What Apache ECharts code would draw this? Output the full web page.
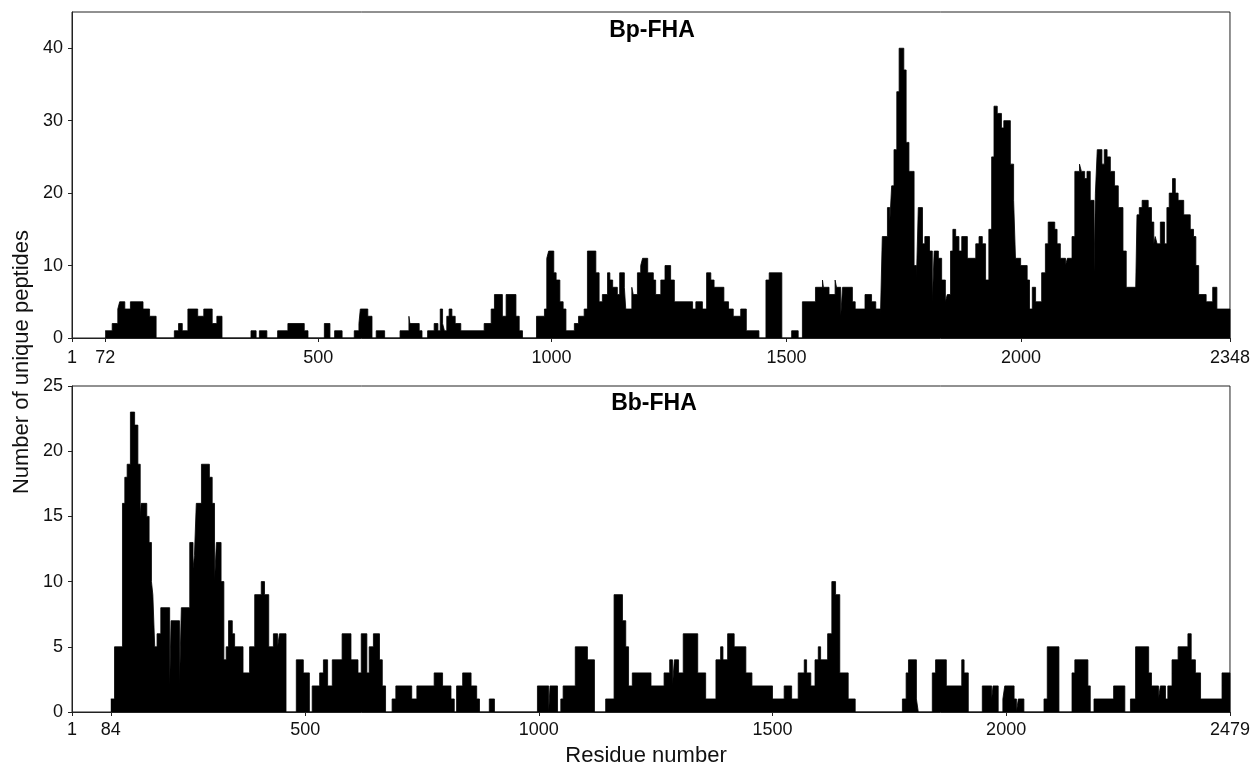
<!DOCTYPE html>
<html>
<head>
<meta charset="utf-8">
<script src="https://cdn.jsdelivr.net/npm/echarts@6/dist/echarts.min.js"></script>
<style>
html, body { margin: 0; padding: 0; background: #fff; }
#chart { width: 1253px; height: 766px; }
</style>
</head>
<body>
<div id="chart"></div>
<script>
// x positions are on the shared (aligned) residue axis, 1..2479
var axisEnd = 2479;

// Bp-FHA: step starts and peptide counts
var bpStart = [72,87,99,103,114,126,153,167,181,
  220,229,237,249,270,283,301,311,322,
  384,395,402,418,441,463,498,506,
  541,553,563,579,605,615,618,634,643,652,670,
  703,722,724,744,750,762,776,784,789,794,798,803,808,814,821,833,883,898,905,922,930,951,958,965,
  995,1012,1017,1021,1032,1037,1045,1052,1058,1076,1085,1097,1104,1122,1129,1136,1147,1152,1158,1168,1173,1183,1186,
  1199,1202,1211,1218,1222,1233,1245,1250,1261,1270,1282,1290,1329,1336,1350,1359,1368,1375,1396,1406,1416,1432,1444,1471,
  1486,1493,1520,1541,1555,1564,1592,1607,1609,1621,1634,1637,1646,1650,1671,1677,1698,1712,1721,1731,
  1735,1746,1751,1755,1760,1766,1771,1781,1786,1792,1803,1808,1812,1821,1826,1836,1842,1846,1855,1862,1870,1874,
  1881,1886,1892,1899,1905,1917,1935,1942,1949,1956,1963,1969,1974,1981,1990,1995,2009,2016,2020,2031,2045,2050,
  2056,2063,2076,2084,2090,2104,2109,2116,2127,2131,2141,2147,2157,2161,2168,2173,2180,2188,2191,2195,2205,2210,
  2216,2223,2232,2240,2250,2257,2277,2280,2285,2291,2304,2311,2316,2319,2323,2330,2339,2344,2349,2356,2362,2368,
  2380,2394,2401,2406,2412,2428,2442,2451];
var bpCount = [1,2,4,5,4,5,4,3,0,
  1,2,1,4,3,4,2,3,0,
  1,0,1,0,1,2,1,0,
  2,0,1,0,1,2,4,3,0,1,0,
  1,3,2,1,0,1,2,1,4,2,1,3,4,3,2,1,2,4,6,3,6,3,1,0,
  3,4,11,12,9,8,5,4,1,2,3,4,12,9,5,6,9,8,7,6,9,7,4,
  7,6,9,10,11,9,8,6,8,10,8,5,4,5,4,9,8,7,5,4,3,4,1,0,
  8,9,0,1,0,5,7,8,7,6,8,7,3,7,5,4,6,5,4,3,
  14,18,16,21,26,34,40,37,27,23,10,8,18,13,14,12,5,12,11,8,5,6,
  12,15,14,12,14,11,13,14,13,8,15,25,32,31,29,30,24,19,11,10,8,4,
  7,5,9,13,16,15,13,11,10,11,14,23,24,23,22,23,19,9,20,26,24,26,
  25,23,21,18,12,7,6,17,18,19,18,16,13,14,13,16,13,18,20,22,20,19,
  17,15,14,10,6,5,7,4];

// Bb-FHA: step starts and peptide counts
var bbStart = [84,92,109,114,119,126,135,142,147,149,161,166,171,174,178,183,191,210,213,231,235,253,260,263,267,
  278,295,301,306,310,320,326,331,336,344,349,367,381,392,406,413,422,432,441,445,459,
  481,496,509,515,531,539,548,558,579,598,613,620,632,637,646,659,665,672,686,694,728,739,
  776,794,812,819,824,837,855,867,873,894,905,
  997,1021,1024,1040,1047,1052,1078,1104,1119,1143,1161,1179,1186,1192,1200,1240,1268,1280,1286,1290,1299,1309,
  1340,1357,1379,1389,1394,1404,1418,1443,1456,1500,1525,1541,1555,1568,1573,1582,1591,1598,1603,1618,1627,1635,
  1644,1662,1677,1778,1786,1791,1808,1812,1842,1849,1872,1905,1910,1919,1949,1969,1972,1983,1993,1997,2017,2022,
  2026,2038,2081,2088,2113,2141,2147,2175,2180,2188,2230,2254,2266,2277,2305,2311,2326,2330,2341,2346,2355,2368,
  2389,2396,2405,2416,2462];
var bbCount = [1,5,16,18,19,23,22,19,15,16,15,13,10,9,5,6,8,2,7,2,8,13,11,12,16,
  19,18,16,10,13,10,4,5,7,6,5,3,5,9,10,9,5,6,5,6,0,
  4,3,0,2,3,4,2,4,6,4,3,6,3,5,6,4,2,0,1,2,1,2,
  3,2,1,0,2,3,2,1,0,1,0,
  2,0,2,0,1,2,5,4,0,1,9,7,5,2,3,2,3,4,2,4,3,6,
  3,1,4,5,4,6,5,3,2,1,2,1,3,4,3,2,4,5,4,6,10,9,
  3,1,0,1,3,4,1,0,3,4,2,4,3,0,2,1,2,0,1,2,1,0,
  1,0,1,5,0,3,4,2,0,1,2,0,1,5,3,2,1,2,1,2,4,5,
  6,4,3,1,3];

// tick positions on the aligned axis and their residue labels
var bpTickPos = [1, 72, 528, 1027, 1530, 2032, 2479];
var bpTickText = ['1', '72', '500', '1000', '1500', '2000', '2348'];
var bbTickPos = [1, 84, 500, 1000, 1500, 2000, 2479];
var bbTickText = ['1', '84', '500', '1000', '1500', '2000', '2479'];

var bpYTicks = [0, 10, 20, 30, 40];
var bbYTicks = [0, 5, 10, 15, 20, 25];

var FONT = '"Liberation Sans", Arial, sans-serif';
var AXIS_COLOR = '#222';

function steps(start, count, end) {
  var d = [];
  for (var i = 0; i < start.length; i++) d.push([start[i], count[i]]);
  d.push([end, count[count.length - 1]]);
  d.push([end, 0]);
  return d;
}

function labelOf(pos, text) {
  return function (v) {
    var best = 0;
    for (var i = 1; i < pos.length; i++) {
      if (Math.abs(pos[i] - v) < Math.abs(pos[best] - v)) best = i;
    }
    return text[best];
  };
}

function xAxis(grid, pos, text, margin) {
  return {
    gridIndex: grid, type: 'value', min: 1, max: axisEnd,
    axisLine: { show: true, onZero: false, lineStyle: { color: AXIS_COLOR, width: 1 } },
    axisTick: { show: true, customValues: pos, length: 4, lineStyle: { color: AXIS_COLOR } },
    axisLabel: { customValues: pos, formatter: labelOf(pos, text), fontSize: 18,
      fontFamily: FONT, color: '#111', margin: margin },
    splitLine: { show: false }
  };
}

function yAxis(grid, max, ticks) {
  return {
    gridIndex: grid, type: 'value', min: 0, max: max,
    axisLine: { show: true, lineStyle: { color: AXIS_COLOR, width: 1 } },
    axisTick: { show: true, customValues: ticks, length: 4, lineStyle: { color: AXIS_COLOR } },
    axisLabel: { customValues: ticks, fontSize: 18, fontFamily: FONT, color: '#111', margin: 9 },
    splitLine: { show: false }
  };
}

function bars(idx, data) {
  return {
    type: 'line', xAxisIndex: idx, yAxisIndex: idx, step: 'end',
    symbol: 'none', silent: true, data: data,
    lineStyle: { color: '#000', width: 0.8 },
    areaStyle: { color: '#000', opacity: 1 }
  };
}

var chart = echarts.init(document.getElementById('chart'));
chart.setOption({
  animation: false,
  backgroundColor: '#fff',
  grid: [
    { left: 72, right: 21, top: 12, height: 326, show: true, borderColor: AXIS_COLOR, borderWidth: 1 },
    { left: 72, right: 21, top: 386, height: 326, show: true, borderColor: AXIS_COLOR, borderWidth: 1 }
  ],
  xAxis: [xAxis(0, bpTickPos, bpTickText, 11), xAxis(1, bbTickPos, bbTickText, 9)],
  yAxis: [yAxis(0, 45, bpYTicks), yAxis(1, 25, bbYTicks)],
  series: [
    bars(0, steps(bpStart, bpCount, axisEnd)),
    bars(1, steps(bbStart, bbCount, axisEnd))
  ],
  graphic: [
    { type: 'text', x: 652, y: 31, style: { text: 'Bp-FHA', font: 'bold 23px ' + FONT,
      fill: '#000', textAlign: 'center', textVerticalAlign: 'middle' } },
    { type: 'text', x: 654, y: 404, style: { text: 'Bb-FHA', font: 'bold 23px ' + FONT,
      fill: '#000', textAlign: 'center', textVerticalAlign: 'middle' } },
    { type: 'text', x: 646, y: 756, style: { text: 'Residue number', font: '22px ' + FONT,
      fill: '#111', textAlign: 'center', textVerticalAlign: 'middle' } },
    { type: 'text', x: 22, y: 362, rotation: Math.PI / 2, style: { text: 'Number of unique peptides',
      font: '22px ' + FONT, fill: '#111', textAlign: 'center', textVerticalAlign: 'middle' } }
  ]
});
</script>
</body>
</html>
